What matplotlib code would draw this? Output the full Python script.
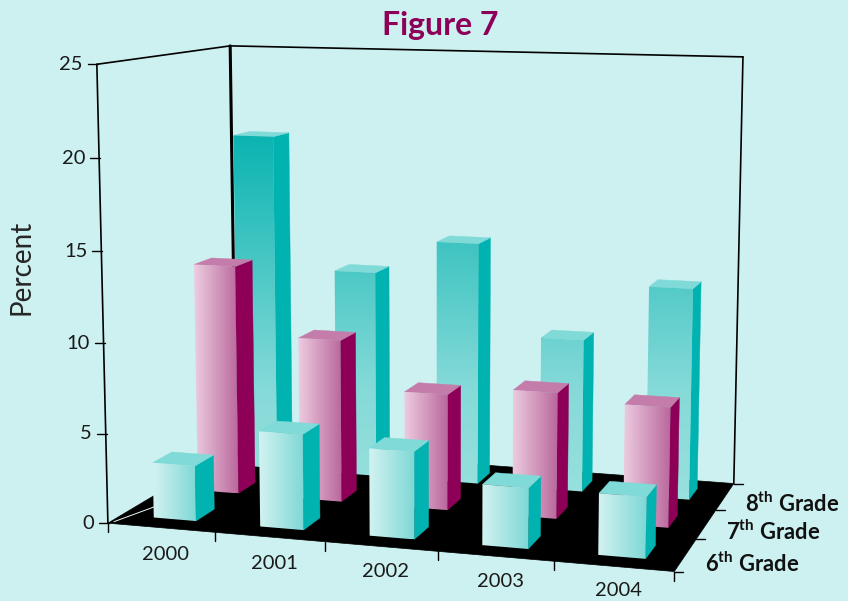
import numpy as np
import matplotlib
matplotlib.use("Agg")
import matplotlib.pyplot as plt
from matplotlib.colors import LinearSegmentedColormap
from matplotlib.patches import Polygon

plt.rcParams['mathtext.fontset'] = 'custom'
plt.rcParams['mathtext.bf'] = 'Lato:bold'
plt.rcParams['mathtext.rm'] = 'Lato'

years = ["2000", "2001", "2002", "2003", "2004"]
grades = ["6", "7", "8"]
percent_ticks = [0, 5, 10, 15, 20, 25]
grade6 = [3.1, 5.3, 4.8, 3.3, 3.3]
grade7 = [13.2, 9.3, 6.6, 7.1, 6.7]
grade8 = [20.0, 12.2, 14.2, 8.9, 12.2]
series = [grade6, grade7, grade8]

BG = "#cdf0f0"
BAR_W, BAR_D = 0.40, 0.42
BAR_CENTER = 0.505

# Camera for the box: known box corners (x, depth, z) and where they land on the canvas.
box_world = np.array([[0, 0, 0], [5, 0, 0], [5, 3, 0], [0, 3, 0],
                      [0, 0, 25], [0, 3, 25], [5, 3, 25]], float)
box_canvas = np.array([[108, 523], [674, 572], [734, 483], [236, 447],
                       [97, 64], [230, 46], [743, 57]], float)


def fit_camera(w, c):
    rows, rhs = [], []
    for (x, y, z), (u, v) in zip(w, c):
        rows.append([x, y, z, 1, 0, 0, 0, 0, -u * x, -u * y, -u * z])
        rhs.append(u)
        rows.append([0, 0, 0, 0, x, y, z, 1, -v * x, -v * y, -v * z])
        rhs.append(v)
    p = np.linalg.lstsq(np.array(rows), np.array(rhs), rcond=None)[0]
    return np.append(p, 1).reshape(3, 4)


CAM = fit_camera(box_world, box_canvas)


def proj(x, y, z):
    h = CAM @ np.array([x, y, z, 1.0])
    return h[0] / h[2], h[1] / h[2]


fig = plt.figure(figsize=(8.48, 6.01), dpi=100, facecolor=BG)
ax = fig.add_axes([0, 0, 1, 1])
ax.set_facecolor(BG)
ax.axis("off")


def line(a, b, lw=1.2, color="black", z=2):
    ax.plot([a[0], b[0]], [a[1], b[1]], color=color, lw=lw, zorder=z,
            solid_capstyle="round")


# Floor and walls
floor = [proj(0, 0, 0), proj(5, 0, 0), proj(5, 3, 0), proj(0, 3, 0)]
ax.add_patch(Polygon(floor, closed=True, fc="black", ec="black", lw=0.5, zorder=1))
line(proj(0.03, 0.06, 0), proj(0.25, 1.0, 0), lw=0.7, color="#e8f8f8", z=1.5)
line(proj(0, 0, 0), proj(0, 0, 25))
line(proj(0, 0, 25), proj(0, 3, 25))
line(proj(0, 3, 25), proj(5, 3, 25))
line(proj(0, 3, 25), proj(0, 3, 0), lw=2.2)
line(proj(5, 3, 25), proj(5, 3, 0))

# Ticks and labels on the three axes
for v in percent_ticks:
    px, py = proj(0, 0, v)
    line((px - 9, py), (px + 1, py), lw=1.0)
    ax.text(px - 14, py, str(v), ha="right", va="center", fontsize=14.5,
            family="Lato", color="#1a1a1a", zorder=5)

for i in range(6):
    px, py = proj(i, 0, 0)
    line((px, py), (px, py + 9), lw=1.0)

for i, year in enumerate(years):
    px, py = proj(i + 0.5, 0, 0)
    ax.text(px + 5, py + 27 - 0.75 * i, year, ha="center", va="center", fontsize=14.5,
            family="Lato", color="#1a1a1a", zorder=5)

for j in range(4):
    px, py = proj(5, j, 0)
    line((px, py), (px + 9, py), lw=1.0)

for j, g in enumerate(grades):
    px, py = proj(5, j + 0.5, 0)
    ax.text(px + 20, py + 9 - 1 * j, g + r"$^{\mathbf{th}}$ Grade", ha="left", va="center",
            fontsize=15.8, family="Lato", weight="bold", color="#111111", zorder=5)

ax.text(22, 267, "Percent", rotation=90, ha="center", va="center", fontsize=20,
        family="Lato", color="#262626")
ax.text(440, 25, "Figure 7", ha="center", va="center", fontsize=23,
        family="Lato", weight="bold", color="#8e0058")

# Shading per grade
teal_h = LinearSegmentedColormap.from_list("t", ["#d3f2f1", "#7dd8d5"])
pink_h = LinearSegmentedColormap.from_list("p", ["#edcde1", "#b9679b"])
teal_v = LinearSegmentedColormap.from_list(
    "v", [(0, "#08b3b0"), (0.68, "#85dad8"), (1, "#9ae1de")])
styles = [
    dict(cmap=teal_h, side="#00b3b0", top="#7fdad8", vertical=False),
    dict(cmap=pink_h, side="#8e0058", top="#c47cab", vertical=False),
    dict(cmap=teal_v, side="#00b3b0", top="#7fdad8", vertical=True),
]


def gradient_face(corners, style, z):
    poly = Polygon(corners, closed=True, fc="none", ec="none", transform=ax.transData)
    ax.add_patch(poly)
    xs = [c[0] for c in corners]
    ys = [c[1] for c in corners]
    if style["vertical"]:
        # colour tied to canvas height, so all back-row bars share one ramp
        ramp = np.linspace(0, 1, 256).reshape(-1, 1)
        ext = (min(xs) - 1, max(xs) + 1, 510, 130)
    else:
        ramp = np.linspace(0, 1, 256).reshape(1, -1)
        ext = (min(xs), max(xs), max(ys), min(ys))
    im = ax.imshow(ramp, cmap=style["cmap"], extent=ext, aspect="auto", vmin=0, vmax=1,
                   origin="upper", zorder=z, interpolation="bilinear")
    im.set_clip_path(poly)


base = 10
for j in (2, 1, 0):
    st = styles[j]
    for i, val in enumerate(series[j]):
        x0, x1 = i + BAR_CENTER - BAR_W / 2, i + BAR_CENTER + BAR_W / 2
        y0, y1 = j + 0.5 - BAR_D / 2, j + 0.5 + BAR_D / 2
        z = base + i * 0.1
        side = [proj(x1, y0, 0), proj(x1, y1, 0), proj(x1, y1, val), proj(x1, y0, val)]
        top = [proj(x0, y0, val), proj(x1, y0, val), proj(x1, y1, val), proj(x0, y1, val)]
        front = [proj(x0, y0, 0), proj(x1, y0, 0), proj(x1, y0, val), proj(x0, y0, val)]
        ax.add_patch(Polygon(side, closed=True, fc=st["side"], ec=st["side"], lw=0.3, zorder=z))
        ax.add_patch(Polygon(top, closed=True, fc=st["top"], ec=st["top"], lw=0.3, zorder=z))
        gradient_face(front, st, z + 0.01)
    base += 10

ax.set_xlim(0, 848)
ax.set_ylim(601, 0)
fig.savefig("out.png", dpi=100, facecolor=BG)
